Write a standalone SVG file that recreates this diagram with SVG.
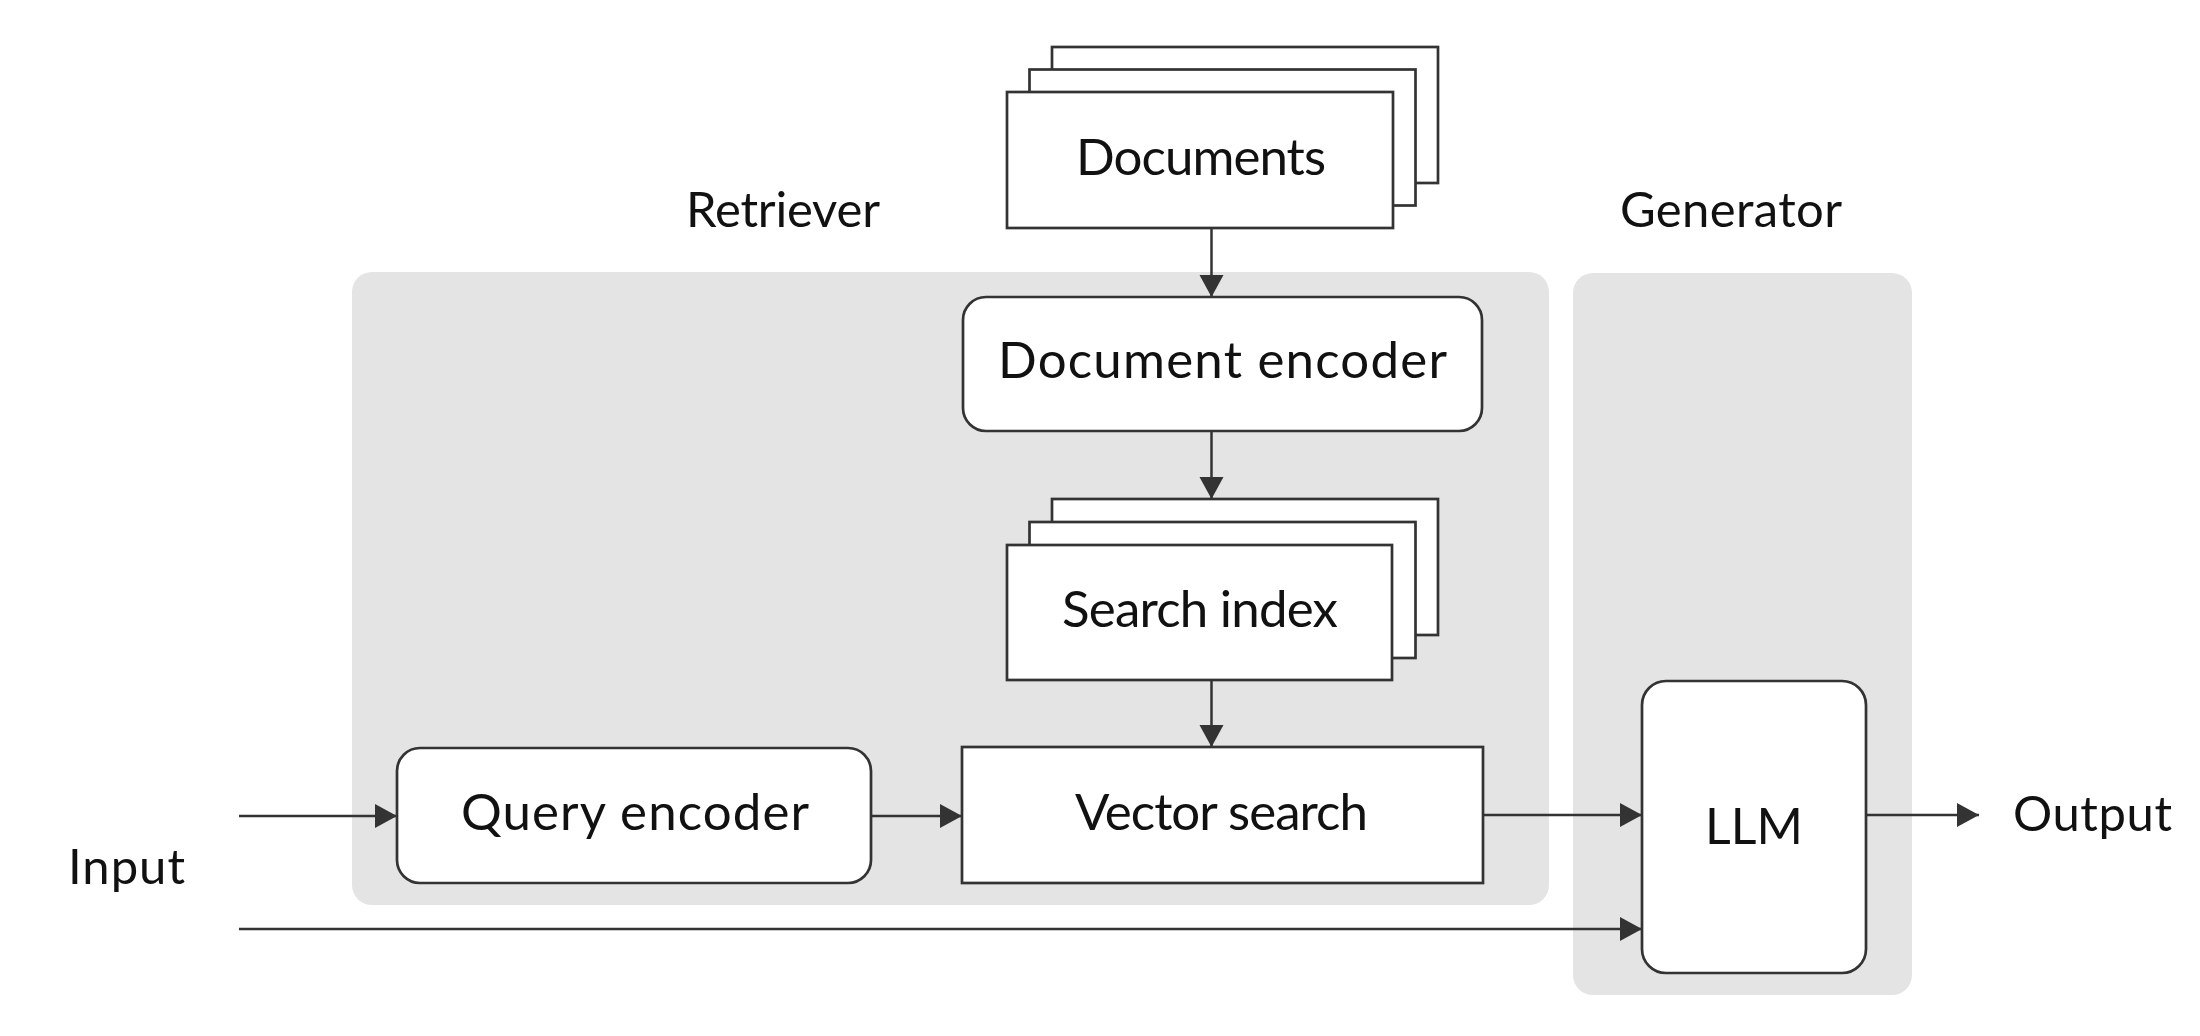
<svg xmlns="http://www.w3.org/2000/svg" width="2200" height="1036" viewBox="0 0 2200 1036">
  <style>
    .grp { fill: #e4e4e4; stroke: none; }
    .box { fill: #ffffff; stroke: #333333; stroke-width: 2.7; }
    .lbl { font-family: Lato, "Open Sans", "Liberation Sans", sans-serif; font-size: 51px; fill: #111111; }
    .cap { font-family: Lato, "Open Sans", "Liberation Sans", sans-serif; font-size: 49px; fill: #111111; }
    .conn { fill: none; stroke: #333333; stroke-width: 2.5; }
  </style>
  <defs>
    <marker id="arrow" markerUnits="userSpaceOnUse" markerWidth="24" markerHeight="26" refX="22" refY="12" orient="auto">
      <path d="M0,0 L22,12 L0,24 Z" fill="#333333"/>
    </marker>
  </defs>
  <rect width="2200" height="1036" fill="#ffffff"/>

  <g id="retriever-group">
    <rect class="grp" x="352" y="272" width="1197" height="633" rx="20"/>
    <text class="cap" x="686" y="227" textLength="194" lengthAdjust="spacing">Retriever</text>
  </g>
  <g id="generator-group">
    <rect class="grp" x="1573" y="273" width="339" height="722" rx="20"/>
    <text class="cap" x="1620" y="227" textLength="222" lengthAdjust="spacing">Generator</text>
  </g>

  <g id="documents">
    <rect class="box" x="1052" y="47" width="386" height="136"/>
    <rect class="box" x="1029.5" y="69.5" width="386" height="136"/>
    <rect class="box" x="1007" y="92" width="386" height="136"/>
    <text class="lbl" x="1076" y="175" textLength="250" lengthAdjust="spacing">Documents</text>
  </g>

  <g id="document-encoder">
    <rect class="box" x="963" y="297" width="519" height="134" rx="23"/>
    <text class="lbl" x="998" y="378" textLength="449" lengthAdjust="spacing">Document encoder</text>
  </g>

  <g id="search-index">
    <rect class="box" x="1052" y="499" width="386" height="136"/>
    <rect class="box" x="1029.5" y="522" width="386" height="136"/>
    <rect class="box" x="1007" y="545" width="385" height="135"/>
    <text class="lbl" x="1062" y="627" textLength="276" lengthAdjust="spacing">Search index</text>
  </g>

  <g id="query-encoder">
    <rect class="box" x="397" y="748" width="474" height="135" rx="23"/>
    <text class="lbl" x="461" y="830" textLength="348" lengthAdjust="spacing">Query encoder</text>
  </g>

  <g id="vector-search">
    <rect class="box" x="962" y="747" width="521" height="136"/>
    <text class="lbl" x="1075" y="830" textLength="293" lengthAdjust="spacing">Vector search</text>
  </g>

  <g id="llm">
    <rect class="box" x="1642" y="681" width="224" height="292" rx="24"/>
    <text class="lbl" x="1754" y="844" text-anchor="middle" style="font-size:50px">LLM</text>
  </g>

  <g id="input">
    <text class="cap" x="68" y="884" textLength="117" lengthAdjust="spacing">Input</text>
  </g>
  <g id="output">
    <text class="cap" x="2013" y="831" textLength="159" lengthAdjust="spacing">Output</text>
  </g>

  <g id="connectors">
    <line class="conn" x1="1211.5" y1="228" x2="1211.5" y2="297" marker-end="url(#arrow)"/>
    <line class="conn" x1="1211.5" y1="431" x2="1211.5" y2="499" marker-end="url(#arrow)"/>
    <line class="conn" x1="1211.5" y1="680" x2="1211.5" y2="747" marker-end="url(#arrow)"/>
    <line class="conn" x1="239" y1="816" x2="397" y2="816" marker-end="url(#arrow)"/>
    <line class="conn" x1="871" y1="816" x2="962" y2="816" marker-end="url(#arrow)"/>
    <line class="conn" x1="1483" y1="815" x2="1642" y2="815" marker-end="url(#arrow)"/>
    <line class="conn" x1="239" y1="929" x2="1642" y2="929" marker-end="url(#arrow)"/>
    <line class="conn" x1="1866" y1="815" x2="1979" y2="815" marker-end="url(#arrow)"/>
  </g>
</svg>
